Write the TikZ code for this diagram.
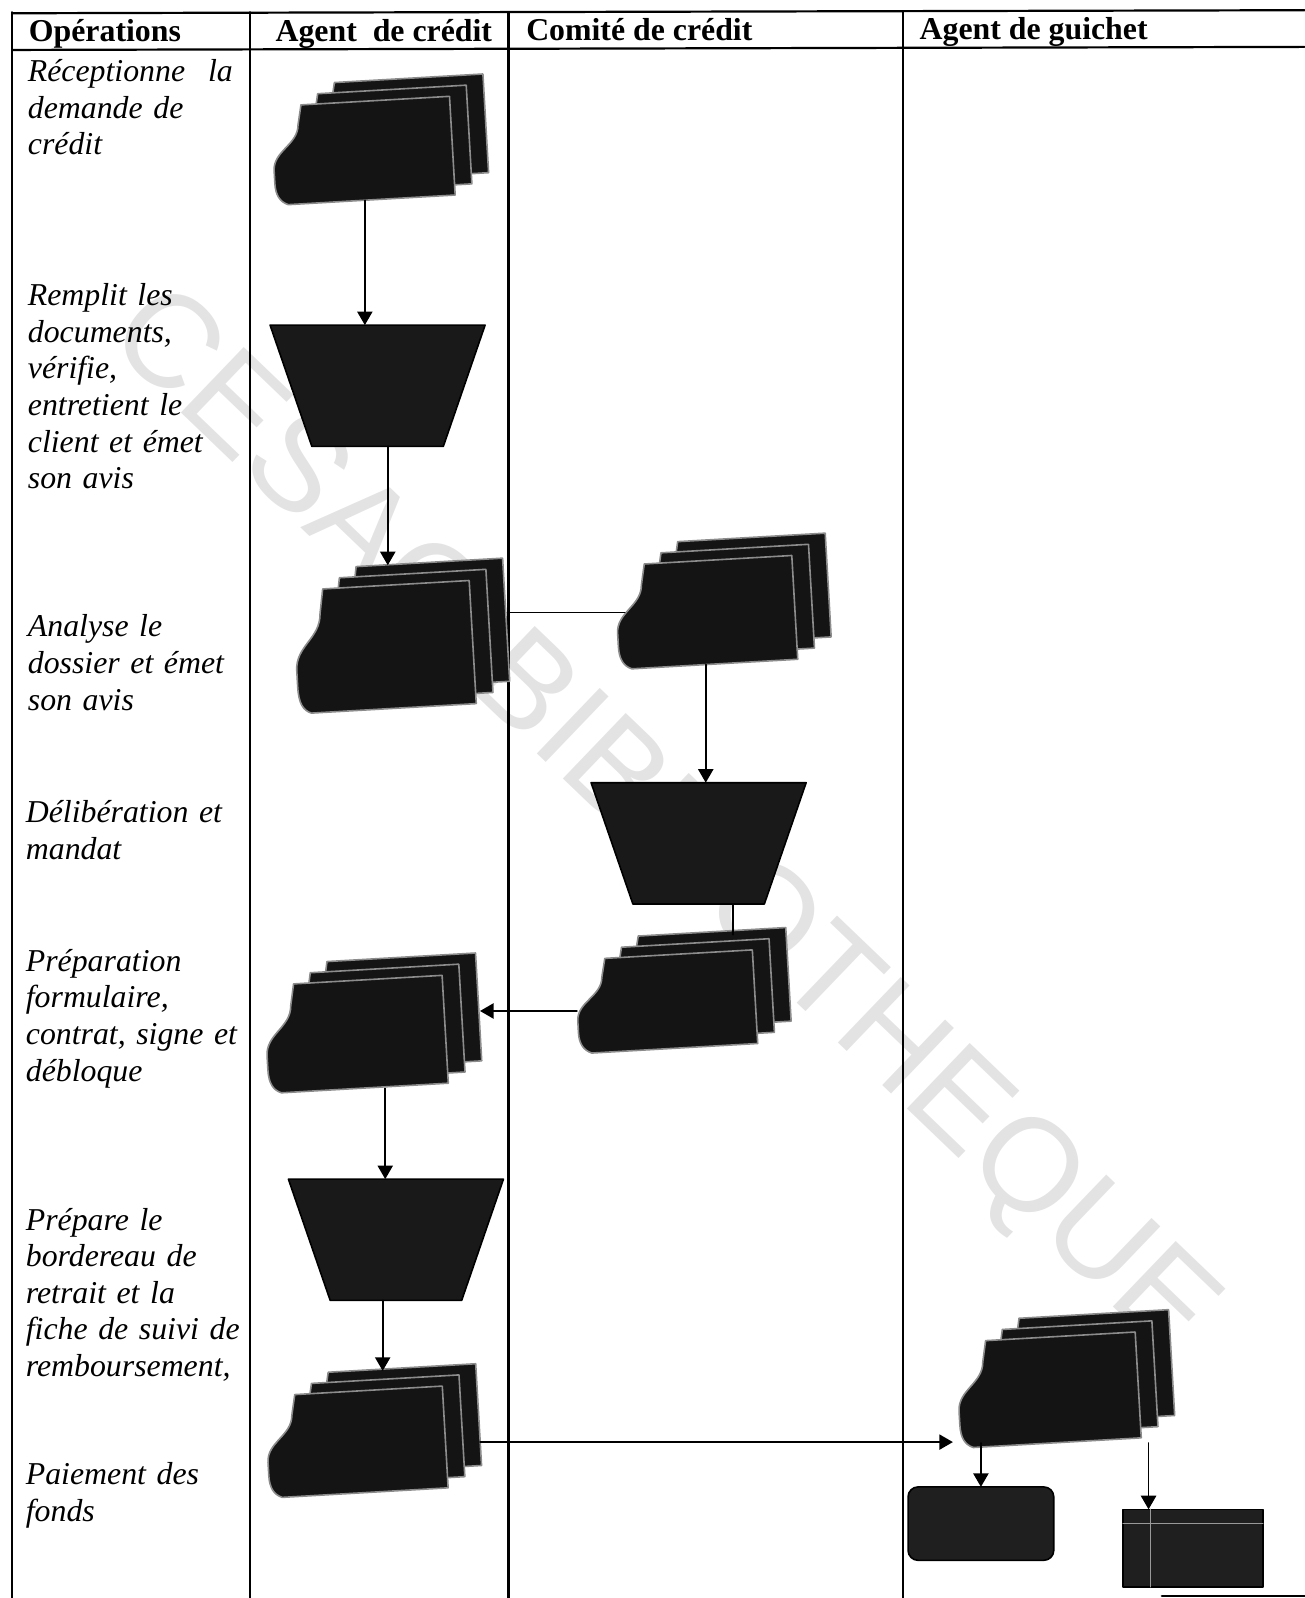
\documentclass[tikz,border=0pt]{standalone}
\usepackage{fontspec}
\setmainfont{Liberation Serif}
\newfontfamily\stampfont{Liberation Sans}
\usetikzlibrary{arrows.meta}
\newcommand{\px}{0.509375pt}

\begin{document}
\begin{tikzpicture}[x=\px, y=-\px, line join=round, line cap=round,
  >={Triangle[length=6.8pt,width=7.6pt]},
  font=\fontsize{15.9}{18.3}\selectfont,
  slot/.style={inner sep=0pt, outer sep=0pt},
  page/.style={fill=black!92, draw=black!45, line width=0.8pt},
  opfill/.style={fill=black!90, draw=black, line width=0.8pt},
  term/.style={slot, fill=black!88, draw=black, line width=0.8pt, rounded corners=5pt},
  store/.style={slot, fill=black!88, draw=black, line width=0.8pt},
  storeline/.style={draw=black!40, line width=0.8pt},
  rule/.style={line width=1.1pt},
  flow/.style={line width=0.9pt},
  stamp/.style={inner sep=0pt, rotate=-43.8, text=black!11, font=\stampfont\fontsize{66}{66}\selectfont},
  head/.style={anchor=base west, inner sep=0pt, font=\fontsize{15.9}{18.3}\selectfont\bfseries},
  ops/.style={anchor=base west, inner sep=0pt, align=left, text width=109.5pt, font=\fontsize{15.9}{18.3}\selectfont\itshape}]
\useasboundingbox (0,0) rectangle (1280,1568);
\def\xl{12}\def\xa{245}\def\xb{499}\def\xc{886}\def\xr{1280}
\def\yt{12}\def\yb{1568}
% stacked documents, manual operation
\def\multidoc#1#2#3#4#5{%
  \begin{scope}[rotate around={3.3:(#2,#3)}]
    \node[slot, minimum width=#4*\px, minimum height=#5*\px] (#1) at (#2,#3) {};
    \foreach \k in {2,1,0}
      \filldraw[page, shift={(#2-#4/2+17*\k,#3-#5/2-10*\k)}]
        (30,0) -- (#4,0) -- (#4,#5) -- (12,#5) .. controls (4,#5-3) and (0,#5-10) .. (0,0.78*#5)
        -- (0,0.65*#5) .. controls (0,0.45*#5) and (25,0.4*#5) .. (26,0.2*#5) -- cycle;
    \coordinate (#1-top) at (#2,#3-#5/2-20);
  \end{scope}}
\def\manop#1#2#3{%
  \node[slot, minimum width=211*\px, minimum height=119*\px] (#1) at (#2,#3) {};
  \filldraw[opfill] (#1.north west) -- (#1.north east) -- ([xshift=-41*\px]#1.south east)
    -- ([xshift=41*\px]#1.south west) -- cycle;}

% stamp
\node[stamp] (wm) at (648,810) {CESAG BIBLIOTHEQUE};

% table
\draw[rule] (\xl,13) -- (\xr,10);
\draw[rule] (\xl,49) -- (\xr,46);
\foreach \x in {\xl,\xa,\xb,\xc} \draw[rule] (\x,\yt) -- (\x,\yb);
\draw[rule] (1140,1566) -- (\xr,1566);

\node[head] (h-ops) at (28,41) {Opérations};
\node[head] (h-agent) at (270,41) {Agent\ \ de crédit};
\node[head] (h-comite) at (516,40) {Comité de crédit};
\node[head] (h-guichet) at (902,39) {Agent de guichet};

\node[ops] (t-recep) at (27,80) {\makebox[102.4pt][l]{Réceptionne\hfill la}\\demande de\\crédit};
\node[ops] (t-remplit) at (27,300) {Remplit les\\documents,\\vérifie,\\entretient le\\client et émet\\son avis};
\node[ops] (t-analyse) at (27,625) {Analyse le\\dossier et émet\\son avis};
\node[ops] (t-delib) at (25,807) {Délibération et\\mandat};
\node[ops] (t-prep) at (25,953) {Préparation\\formulaire,\\contrat, signe et\\débloque};
\node[ops] (t-bord) at (25,1207) {Prépare le\\bordereau de\\retrait et la\\fiche de suivi de\\remboursement,};
\node[ops] (t-paie) at (25,1457) {Paiement des\\fonds};

% shapes
\multidoc{demande}{356}{148}{176}{97}
\manop{verif}{370.5}{378.5}
\multidoc{dossier}{377}{635}{174}{121}
\multidoc{avisc}{692.5}{601}{175}{102}
\manop{delib}{685.5}{827.5}
\multidoc{mandat}{653.5}{983}{175}{92}
\multidoc{formulaire}{349}{1015}{176}{106}
\manop{prepare}{388.5}{1216.5}
\multidoc{bordereau}{349.5}{1415}{175}{100}
\multidoc{paiement}{1028.5}{1364}{177}{104}
\node[term, minimum width=143*\px, minimum height=72*\px] (fonds) at (962.5,1495) {};
\node[store, minimum width=137*\px, minimum height=76*\px] (fiche) at (1170.5,1519) {};
\draw[storeline] ([yshift=-14*\px]fiche.north west) -- ([yshift=-14*\px]fiche.north east);
\draw[storeline] ([xshift=27*\px]fiche.north west) -- ([xshift=27*\px]fiche.south west);

% flows
\draw[flow,->] ([xshift=2*\px]demande.south) -- ([xshift=2*\px]demande.south |- verif.north);
\draw[flow,->] ([xshift=10*\px]verif.south) -- ([xshift=10*\px]verif.south |- dossier-top);
\draw[flow] ([xshift=34*\px]dossier.east |- avisc.west) -- ([xshift=8*\px]avisc.west);
\draw[flow,->] (avisc.south) -- (avisc.south |- delib.north);
\draw[flow] ([xshift=34*\px]delib.south) -- ([xshift=34*\px]delib.south |- mandat-top);
\coordinate (mport) at ([yshift=-9*\px]mandat.west);
\draw[flow,->] (mport) -- ([xshift=34*\px]formulaire.east |- mport);
\draw[flow,->] ([xshift=29*\px]formulaire.south) -- ([xshift=29*\px]formulaire.south |- prepare.north);
\draw[flow,->] ([xshift=-13*\px]prepare.south) -- ([xshift=-13*\px]prepare.south |- bordereau-top);
\draw[flow,->] ([xshift=34*\px]bordereau.east) -- ([xshift=-5*\px]paiement.west |- bordereau.east);
\draw[flow,->] (fonds.north |- paiement.south) -- (fonds.north);
\draw[flow,->] ([xshift=25*\px]fiche.north west |- paiement.south) -- ([xshift=25*\px]fiche.north west);
\end{tikzpicture}
\end{document}
